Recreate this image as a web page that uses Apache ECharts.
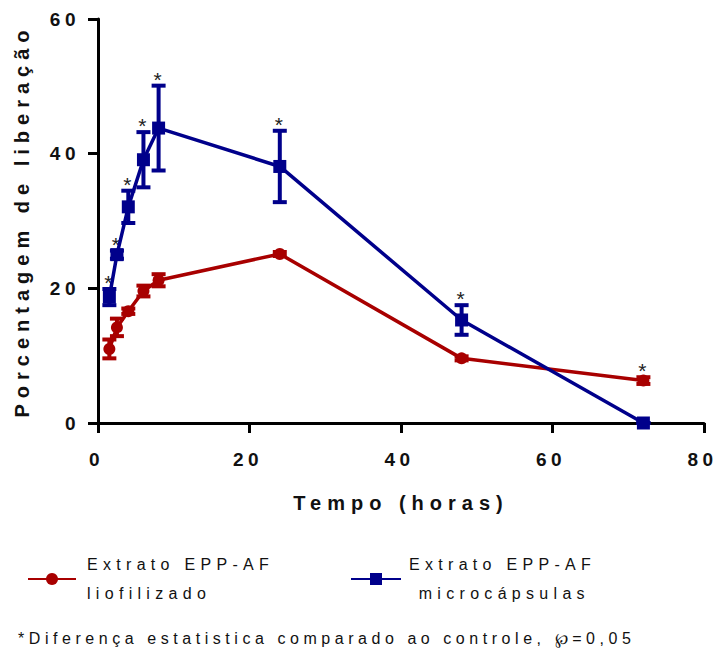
<!DOCTYPE html>
<html>
<head>
<meta charset="utf-8">
<script src="https://cdn.jsdelivr.net/npm/echarts@6/dist/echarts.min.js"></script>
<style>
  html, body { margin: 0; padding: 0; background: #fff; }
  #chart { width: 718px; height: 652px; }
  #chart text { white-space: pre; }
  #chart text[style*="lsTick"] { letter-spacing: 4.5px; }
  #chart text[style*="lsName"] { letter-spacing: 6px; }
  #chart text[style*="lsLeg"] { letter-spacing: 5.3px; }
  #chart text[style*="lsNote"] { letter-spacing: 4.55px; }
</style>
</head>
<body>
<div id="chart"></div>
<script>
// release time points (hours)
const hours = [1.5, 2.5, 4, 6, 8, 24, 48, 72];

// Extrato EPP-AF liofilizado
const lioMean = [11.0, 14.2, 16.6, 19.6, 21.2, 25.1, 9.6, 6.3];
const lioErr = [1.4, 1.3, 0.4, 0.8, 0.9, 0.3, 0.3, 0.5];
const lioSig = [0, 0, 0, 0, 0, 0, 0, 1];

// Extrato EPP-AF microcápsulas
const micMean = [18.7, 25.0, 32.1, 39.1, 43.8, 38.1, 15.3, 0];
const micErr = [1.2, 0.6, 2.4, 4.1, 6.3, 5.3, 2.2, 0];
const micSig = [1, 1, 1, 1, 1, 1, 1, 0];

const lioName = 'Extrato EPP-AF\nliofilizado';
const micName = 'Extrato EPP-AF\n microcápsulas';
const footNote = '*Diferença estatistica comparado ao controle, \u2118=0,05';

const RED = '#a80000';
const BLUE = '#00008b';

const chart = echarts.init(document.getElementById('chart'), null, { renderer: 'svg' });

const toPairs = (mean) => hours.map((h, i) => [h, mean[i]]);
const toBars = (mean, err, sig) => hours.map((h, i) => [h, mean[i] - err[i], mean[i] + err[i], sig[i]]);

function errorBars(color) {
    return function (params, api) {
        const x = api.value(0);
        const top = api.coord([x, api.value(2)]);
        const bot = api.coord([x, api.value(1)]);
        const w = 7;
        const st = { stroke: color, lineWidth: 4 };
        const kids = [
            { type: 'line', shape: { x1: top[0], y1: top[1], x2: bot[0], y2: bot[1] }, style: st },
            { type: 'line', shape: { x1: top[0] - w, y1: top[1], x2: top[0] + w, y2: top[1] }, style: st },
            { type: 'line', shape: { x1: bot[0] - w, y1: bot[1], x2: bot[0] + w, y2: bot[1] }, style: st },
        ];
        if (api.value(3)) {
            kids.push({
                type: 'text',
                style: {
                    x: top[0] - 1, y: top[1] + 4,
                    text: '*', fill: '#222',
                    font: '21px "Liberation Sans", lsStar',
                    align: 'center', verticalAlign: 'bottom',
                },
            });
        }
        return { type: 'group', children: kids };
    };
}

const tickFont = { color: '#111', fontSize: 19, fontWeight: 'bold', fontFamily: '"Liberation Sans", lsTick' };
const nameFont = { color: '#111', fontSize: 20, fontWeight: 'bold', fontFamily: '"Liberation Sans", lsName' };
const legendText = {
    color: '#111', fontSize: 16, lineHeight: 29,
    fontFamily: '"Liberation Sans", lsLeg',
    padding: [0, 0, 0, 6],
};

const option = {
    backgroundColor: '#fff',
    animation: false,
    grid: { left: 98, right: 14, top: 19, bottom: 229 },
    xAxis: {
        type: 'value',
        min: 0, max: 80, interval: 20,
        name: 'Tempo (horas)',
        nameLocation: 'middle',
        nameGap: 70,
        nameTextStyle: nameFont,
        splitLine: { show: false },
        axisLine: { onZero: false, lineStyle: { color: '#000', width: 3 } },
        axisTick: { length: 10, lineStyle: { color: '#000', width: 3 } },
        axisLabel: Object.assign({ margin: 27, padding: [0, 3, 0, 0] }, tickFont),
    },
    yAxis: {
        type: 'value',
        min: 0, max: 60, interval: 20,
        name: 'Porcentagem de liberação',
        nameLocation: 'middle',
        nameGap: 66,
        nameTextStyle: nameFont,
        splitLine: { show: false },
        axisLine: { show: true, lineStyle: { color: '#000', width: 3 } },
        axisTick: { show: true, length: 10, lineStyle: { color: '#000', width: 3 } },
        axisLabel: Object.assign({ margin: 18 }, tickFont),
    },
    legend: [
        {
            data: [lioName],
            left: 22, top: 545,
            itemWidth: 48, itemHeight: 15,
            textStyle: legendText,
        },
        {
            data: [micName],
            left: 345, top: 545,
            itemWidth: 50, itemHeight: 15,
            textStyle: Object.assign({}, legendText, { padding: [0, 0, 0, 3] }),
        },
    ],
    graphic: [
        {
            type: 'text',
            left: 18, top: 630,
            style: {
                text: footNote,
                fill: '#111',
                font: '16px "Liberation Sans", lsNote',
            },
        },
    ],
    series: [
        {
            type: 'custom',
            name: 'lioErr',
            renderItem: errorBars(RED),
            data: toBars(lioMean, lioErr, lioSig),
            encode: { x: 0, y: [1, 2] },
            z: 2,
        },
        {
            type: 'custom',
            name: 'micErr',
            renderItem: errorBars(BLUE),
            data: toBars(micMean, micErr, micSig),
            encode: { x: 0, y: [1, 2] },
            z: 2,
        },
        {
            name: lioName,
            type: 'line',
            data: toPairs(lioMean),
            symbol: 'circle',
            symbolSize: 12,
            color: RED,
            lineStyle: { color: RED, width: 3.5 },
            itemStyle: { color: RED },
            z: 3,
        },
        {
            name: micName,
            type: 'line',
            data: toPairs(micMean),
            symbol: 'rect',
            symbolSize: 13,
            color: BLUE,
            lineStyle: { color: BLUE, width: 3.5 },
            itemStyle: { color: BLUE },
            z: 4,
        },
    ],
};

chart.setOption(option);
</script>
</body>
</html>
